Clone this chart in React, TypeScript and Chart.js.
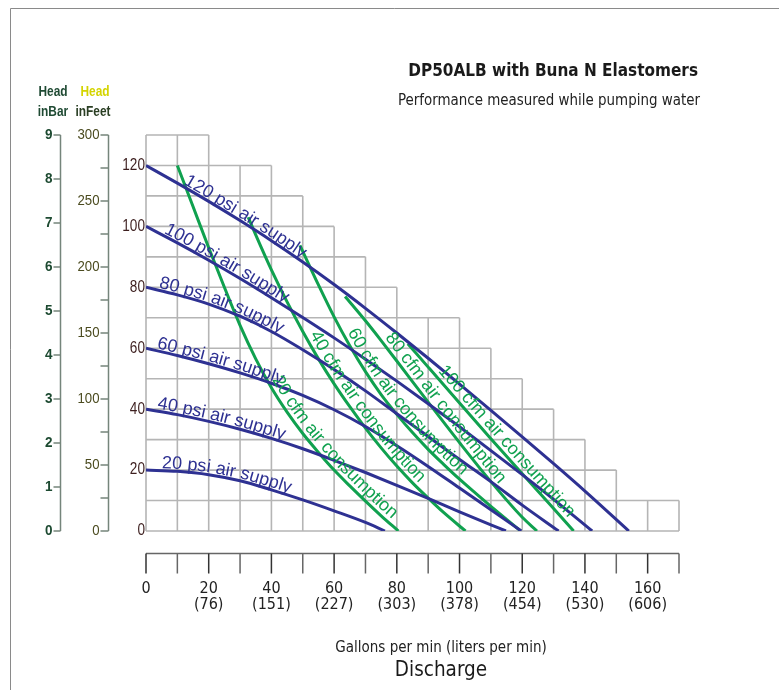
import React, { useEffect, useRef } from "react";
import { Chart, registerables } from "chart.js";

Chart.register(...registerables);

// ---------- data (gpm, psi) ----------
const psi120: number[][] = [[0, 120], [10, 114.2], [20, 108.2], [30, 101.9], [40, 95.3], [50, 88.3], [60, 80.9], [70, 73.1], [80, 65], [90, 56.7], [100, 48.2], [110, 39.6], [120, 30.9], [130, 22.1], [140, 13.1], [154, 0]];
const psi100: number[][] = [[0, 100], [10, 94.6], [20, 88.9], [30, 82.9], [40, 76.6], [50, 70.1], [60, 63.4], [70, 56.4], [80, 49.2], [90, 41.8], [100, 34.2], [110, 26.4], [120, 18.5], [130, 10.4], [142.3, 0]];
const psi80: number[][] = [[0, 80], [10, 77.5], [20, 74.5], [30, 70.5], [40, 65.5], [50, 59.5], [60, 53], [70, 46], [80, 38.5], [90, 31], [100, 23.5], [110, 16.2], [120, 8.5], [131.6, 0]];
const psi60: number[][] = [[0, 60], [10, 57.6], [20, 54.9], [30, 51.9], [40, 48.5], [50, 44.5], [60, 39.8], [70, 34.3], [80, 28], [90, 21.2], [100, 14.1], [110, 7], [119.7, 0]];
const psi40: number[][] = [[0, 40], [10, 38.2], [20, 36], [30, 33.4], [40, 30.4], [50, 27], [60, 23.2], [70, 19.2], [80, 15], [90, 10.7], [100, 6.3], [110, 2], [114.8, 0]];
const psi20: number[][] = [[0, 20], [10, 19.6], [20, 18.5], [30, 16.5], [40, 13.5], [50, 10.2], [60, 6.6], [70, 2.8], [76.2, 0]];

const cfm20: number[][] = [[10, 120], [15, 106.5], [20, 93], [25, 80], [30, 67.5], [35, 56.5], [40, 47], [45, 39], [50, 32], [55, 25.8], [60, 20], [65, 14.8], [70, 9.8], [75, 5], [80.5, 0]];
const cfm40: number[][] = [[32.6, 103], [35, 97.2], [40, 85.7], [45, 75.2], [50, 65.5], [55, 56.5], [60, 48.3], [65, 40.8], [70, 33.8], [75, 27.3], [80, 21.3], [85, 15.8], [90, 10.8], [95, 6], [101.9, 0]];
const cfm60: number[][] = [[49.1, 93.8], [55, 80.8], [60, 70.3], [65, 60.8], [70, 52.3], [75, 44.8], [80, 38.3], [85, 32.3], [90, 26.8], [95, 21.8], [100, 17], [105, 12.5], [110, 8.1], [115, 3.8], [119.5, 0]];
const cfm80: number[][] = [[63.5, 77], [70, 69], [75, 62.5], [80, 55.8], [90, 42.3], [100, 29], [110, 16.2], [120, 4.5], [124.7, 0]];
const cfm100: number[][] = [[83.5, 61.5], [90, 53.8], [100, 42], [110, 30.3], [120, 18.8], [130, 7.4], [136.4, 0]];

const pressureCurves = [psi120, psi100, psi80, psi60, psi40, psi20];
const pressureLabels = ["120 psi air supply", "100 psi air supply", "80 psi air supply", "60 psi air supply", "40 psi air supply", "20 psi air supply"];
const pressureLabelStart = [11.5, 5.2, 3.8, 3.2, 3.4, 5];

const airCurves = [cfm20, cfm40, cfm60, cfm80, cfm100];
const airLabels = ["20 cfm air consumption", "40 cfm air consumption", "60 cfm air consumption", "80 cfm air consumption", "100 cfm air consumption"];
const airLabelStart = [39, 51, 63, 75, 92];

// staircase grid: right extent (gpm) of each 10-psi row, from bottom row upward
const gridRowExtent = [170, 150, 140, 130, 120, 110, 100, 80, 70, 60, 50, 40, 20];

const psiTicks = [0, 20, 40, 60, 80, 100, 120];
const barTicks = [0, 1, 2, 3, 4, 5, 6, 7, 8, 9];
const feetTicks = [0, 50, 100, 150, 200, 250, 300];
const feetMinorTicks = [25, 75, 125, 175, 225, 275];
const gpmTicks = [0, 20, 40, 60, 80, 100, 120, 140, 160];
const gpmMinorTicks = [10, 30, 50, 70, 90, 110, 130, 150, 170];
const litreLabels = ["", "(76)", "(151)", "(227)", "(303)", "(378)", "(454)", "(530)", "(606)"];

const BLUE = "#2e3192";
const GREEN = "#10a14f";

type Pt = { x: number; y: number };

function toPixels(chart: any, curve: number[][]): Pt[] {
  const xs = chart.scales.x;
  const ys = chart.scales.y;
  return curve.map(([g, h]) => ({ x: xs.getPixelForValue(g), y: ys.getPixelForValue(h) }));
}

function narrowText(ctx: CanvasRenderingContext2D, text: string, x: number, y: number, sx: number) {
  ctx.save();
  ctx.translate(x, y);
  ctx.scale(sx, 1);
  ctx.fillText(text, 0, 0);
  ctx.restore();
}

function drawTextOnPath(ctx: CanvasRenderingContext2D, pts: Pt[], text: string, startX: number, offset: number) {
  const cum: number[] = [0];
  for (let i = 1; i < pts.length; i++) {
    cum.push(cum[i - 1] + Math.hypot(pts[i].x - pts[i - 1].x, pts[i].y - pts[i - 1].y));
  }
  const at = (d: number): Pt => {
    if (d <= 0) {
      const dx = pts[1].x - pts[0].x, dy = pts[1].y - pts[0].y, l = Math.hypot(dx, dy);
      return { x: pts[0].x + (dx / l) * d, y: pts[0].y + (dy / l) * d };
    }
    for (let i = 1; i < pts.length; i++) {
      if (d <= cum[i] || i === pts.length - 1) {
        const seg = cum[i] - cum[i - 1];
        const t = (d - cum[i - 1]) / seg;
        return { x: pts[i - 1].x + (pts[i].x - pts[i - 1].x) * t, y: pts[i - 1].y + (pts[i].y - pts[i - 1].y) * t };
      }
    }
    return pts[pts.length - 1];
  };
  let d = 0;
  for (let i = 1; i < pts.length; i++) {
    if (pts[i].x >= startX) {
      const t = (startX - pts[i - 1].x) / (pts[i].x - pts[i - 1].x);
      d = cum[i - 1] + (cum[i] - cum[i - 1]) * Math.max(0, t);
      break;
    }
  }
  for (const ch of text) {
    const w = ctx.measureText(ch).width;
    const mid = d + w / 2;
    const p = at(mid);
    const a = at(mid - 8);
    const b = at(mid + 8);
    const ang = Math.atan2(b.y - a.y, b.x - a.x);
    ctx.save();
    ctx.translate(p.x + Math.sin(ang) * offset, p.y - Math.cos(ang) * offset);
    ctx.rotate(ang);
    ctx.fillText(ch, -w / 2, 0);
    ctx.restore();
    d += w;
  }
}

const decorPlugin = {
  id: "decor",
  beforeDatasetsDraw(chart: any) {
    const ctx: CanvasRenderingContext2D = chart.ctx;
    const xs = chart.scales.x;
    const ys = chart.scales.y;
    ctx.save();
    ctx.strokeStyle = "#b5b5b5";
    ctx.lineWidth = 1.6;
    ctx.beginPath();
    for (let k = 0; k <= gridRowExtent.length; k++) {
      const ext = gridRowExtent[Math.max(k - 1, 0)];
      const y = ys.getPixelForValue(k * 10);
      ctx.moveTo(xs.getPixelForValue(0), y);
      ctx.lineTo(xs.getPixelForValue(ext), y);
    }
    for (let g = 0; g <= 170; g += 10) {
      let top = 0;
      gridRowExtent.forEach((ext, i) => {
        if (ext >= g) top = (i + 1) * 10;
      });
      const x = xs.getPixelForValue(g);
      ctx.moveTo(x, ys.getPixelForValue(0));
      ctx.lineTo(x, ys.getPixelForValue(top));
    }
    ctx.stroke();
    ctx.restore();
  },
  afterDatasetsDraw(chart: any) {
    const ctx: CanvasRenderingContext2D = chart.ctx;
    const xs = chart.scales.x;
    const ys = chart.scales.y;
    const yb = chart.scales.yBar;
    const yf = chart.scales.yFeet;
    ctx.save();

    // curve labels
    ctx.font = '18px "Liberation Sans", Arial, sans-serif';
    ctx.textBaseline = "alphabetic";
    ctx.textAlign = "left";
    ctx.fillStyle = BLUE;
    pressureCurves.forEach((c, i) => {
      drawTextOnPath(ctx, toPixels(chart, c), pressureLabels[i], xs.getPixelForValue(pressureLabelStart[i]), 2.5);
    });
    ctx.fillStyle = GREEN;
    airCurves.forEach((c, i) => {
      drawTextOnPath(ctx, toPixels(chart, c), airLabels[i], xs.getPixelForValue(airLabelStart[i]), 4.5);
    });

    // psi tick labels
    ctx.font = '16px "Liberation Sans", sans-serif';
    ctx.fillStyle = "#3d1f1f";
    ctx.textAlign = "right";
    ctx.textBaseline = "middle";
    psiTicks.forEach((v) => {
      narrowText(ctx, String(v), chart.chartArea.left - 1, ys.getPixelForValue(v), 0.85);
    });

    // bar axis
    const barX = 60.5;
    ctx.strokeStyle = "#75857b";
    ctx.lineWidth = 1.5;
    ctx.beginPath();
    ctx.moveTo(barX, yb.getPixelForValue(0));
    ctx.lineTo(barX, yb.getPixelForValue(9));
    barTicks.forEach((v) => {
      const y = yb.getPixelForValue(v);
      ctx.moveTo(barX - 7, y);
      ctx.lineTo(barX, y);
    });
    ctx.stroke();
    ctx.font = 'bold 15px "Liberation Sans", sans-serif';
    ctx.fillStyle = "#1d4a31";
    barTicks.forEach((v) => {
      narrowText(ctx, String(v), barX - 8, yb.getPixelForValue(v), 0.9);
    });

    // feet axis
    const ftX = 108.5;
    ctx.beginPath();
    ctx.moveTo(ftX, yf.getPixelForValue(0));
    ctx.lineTo(ftX, yf.getPixelForValue(300));
    [...feetTicks, ...feetMinorTicks].forEach((v) => {
      const y = yf.getPixelForValue(v);
      ctx.moveTo(ftX - 8, y);
      ctx.lineTo(ftX, y);
    });
    ctx.stroke();
    ctx.font = '15px "Liberation Sans", sans-serif';
    ctx.fillStyle = "#4b4b1f";
    feetTicks.forEach((v) => {
      narrowText(ctx, String(v), ftX - 9, yf.getPixelForValue(v), 0.88);
    });

    // axis headers
    ctx.textAlign = "center";
    ctx.font = 'bold 14px "Liberation Sans", sans-serif';
    ctx.fillStyle = "#1f4a33";
    narrowText(ctx, "Head", 53, 92, 0.85);
    narrowText(ctx, "inBar", 53, 112, 0.85);
    ctx.fillStyle = "#d4d400";
    narrowText(ctx, "Head", 95, 92, 0.85);
    ctx.fillStyle = "#2b3f24";
    narrowText(ctx, "inFeet", 93, 112, 0.85);

    // x axis
    const axisY = 553.5;
    const x0 = xs.getPixelForValue(0);
    const x1 = xs.getPixelForValue(170);
    ctx.strokeStyle = "#666666";
    ctx.lineWidth = 1.5;
    ctx.beginPath();
    ctx.moveTo(x0, axisY);
    ctx.lineTo(x1, axisY);
    gpmMinorTicks.forEach((g) => {
      const x = xs.getPixelForValue(g);
      ctx.moveTo(x, axisY);
      ctx.lineTo(x, axisY + 20);
    });
    ctx.stroke();
    ctx.strokeStyle = "#333333";
    ctx.beginPath();
    gpmTicks.forEach((g) => {
      const x = xs.getPixelForValue(g);
      ctx.moveTo(x, axisY);
      ctx.lineTo(x, axisY + 20);
    });
    ctx.stroke();
    ctx.font = '16px "DejaVu Sans Condensed", sans-serif';
    ctx.fillStyle = "#222222";
    gpmTicks.forEach((g, i) => {
      const x = xs.getPixelForValue(g);
      ctx.fillText(String(g), x, 589);
      if (litreLabels[i]) ctx.fillText(litreLabels[i], x, 605);
    });

    // axis titles
    ctx.font = '15px "DejaVu Sans Condensed", sans-serif';
    ctx.fillText("Gallons per min (liters per min)", 441, 648);
    ctx.font = '20.5px "DejaVu Sans Condensed", sans-serif';
    ctx.fillStyle = "#1a1a1a";
    ctx.fillText("Discharge", 441, 671);

    // chart titles
    ctx.textAlign = "right";
    ctx.font = 'bold 17px "DejaVu Sans Condensed", sans-serif';
    ctx.fillText("DP50ALB with Buna N Elastomers", 698, 72, 290);
    ctx.font = '15px "DejaVu Sans Condensed", sans-serif';
    ctx.fillStyle = "#222222";
    ctx.fillText("Performance measured while pumping water", 700, 101, 302);

    // frame
    ctx.strokeStyle = "#8a8a8a";
    ctx.lineWidth = 1;
    ctx.beginPath();
    ctx.moveTo(10.5, 690);
    ctx.lineTo(10.5, 8.5);
    ctx.lineTo(779, 8.5);
    ctx.stroke();

    ctx.restore();
  },
};

export default function App() {
  const canvasRef = useRef<HTMLCanvasElement | null>(null);

  useEffect(() => {
    document.body.style.margin = "0";
    const canvas = canvasRef.current;
    if (!canvas) return;
    const mk = (curve: number[][], color: string) => ({
      data: curve.map(([x, y]) => ({ x, y })),
      borderColor: color,
      borderWidth: 3,
      pointRadius: 0,
      fill: false,
      cubicInterpolationMode: "monotone" as const,
    });
    const chart = new Chart(canvas, {
      type: "line",
      data: {
        datasets: [
          ...pressureCurves.map((c) => mk(c, BLUE)),
          ...airCurves.map((c) => mk(c, GREEN)),
        ],
      },
      options: {
        responsive: false,
        animation: false,
        devicePixelRatio: 1,
        layout: { padding: { left: 146, right: 100, top: 135, bottom: 159 } },
        plugins: { legend: { display: false }, tooltip: { enabled: false }, title: { display: false } },
        scales: {
          x: { type: "linear", min: 0, max: 170, display: false },
          y: { type: "linear", min: 0, max: 130, display: false },
          yBar: { type: "linear", position: "left", min: 0, max: 9, display: false },
          yFeet: { type: "linear", position: "left", min: 0, max: 300, display: false },
        },
      },
      plugins: [decorPlugin],
    });
    return () => chart.destroy();
  }, []);

  return (
    <div style={{ width: 779, height: 690, background: "#ffffff" }}>
      <canvas ref={canvasRef} width={779} height={690} style={{ display: "block" }} />
    </div>
  );
}
